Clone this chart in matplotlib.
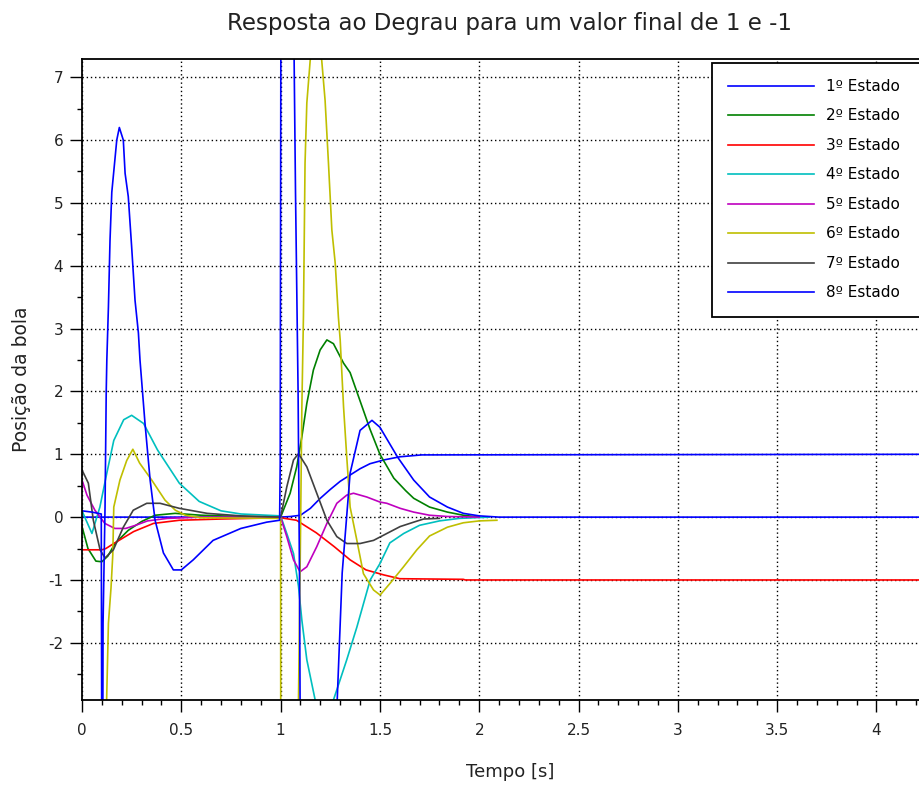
import matplotlib
matplotlib.use("Agg")
import matplotlib.pyplot as plt
from matplotlib.ticker import MultipleLocator, FormatStrFormatter

plt.rcParams['font.family'] = ['DejaVu Sans']
plt.rcParams['axes.unicode_minus'] = False

# ---- data (time in s, position) ----
t1 = [0, 0.5, 1.0, 1.05, 1.10, 1.15, 1.20, 1.25, 1.30, 1.35, 1.40, 1.45, 1.52, 1.60, 1.71, 4.31]
y1 = [0, 0, 0, 0.01, 0.03, 0.14, 0.30, 0.44, 0.57, 0.67, 0.77, 0.85, 0.91, 0.96, 0.99, 1.0]

t2 = [0, 0.03, 0.07, 0.10, 0.13, 0.166, 0.233, 0.30, 0.368, 0.469, 0.6, 0.8, 1.0,
      1.048, 1.081, 1.107, 1.132, 1.165, 1.199, 1.233, 1.266, 1.317, 1.35, 1.40, 1.45,
      1.50, 1.57, 1.63, 1.67, 1.75, 1.84, 1.92, 2.0]
y2 = [-0.15, -0.5, -0.7, -0.71, -0.62, -0.42, -0.21, -0.07, 0.03, 0.06, 0.03, 0.01, 0.0,
      0.38, 0.8, 1.28, 1.81, 2.34, 2.66, 2.82, 2.76, 2.45, 2.3, 1.85, 1.4,
      1.0, 0.62, 0.42, 0.3, 0.16, 0.08, 0.03, 0.0]

t3 = [0, 0.1, 0.12, 0.16, 0.26, 0.36, 0.49, 0.7, 1.0, 1.08, 1.18, 1.27, 1.35, 1.43,
      1.52, 1.60, 1.92, 1.93, 4.31]
y3 = [-0.52, -0.52, -0.5, -0.42, -0.23, -0.1, -0.05, -0.03, -0.01, -0.05, -0.25, -0.47,
      -0.68, -0.84, -0.92, -0.98, -0.99, -1.0, -1.0]

t4 = [0, 0.05, 0.09, 0.125, 0.16, 0.21, 0.25, 0.31, 0.38, 0.49, 0.59, 0.70, 0.80, 1.0,
      1.031, 1.065, 1.09, 1.107, 1.132, 1.174, 1.22, 1.266, 1.333, 1.384, 1.451, 1.50,
      1.55, 1.62, 1.70, 1.80, 1.90, 2.05]
y4 = [0.1, -0.26, 0.16, 0.7, 1.22, 1.55, 1.62, 1.49, 1.07, 0.54, 0.25, 0.1, 0.05, 0.02,
      -0.26, -0.58, -1.1, -1.64, -2.27, -2.91, -3.4, -2.91, -2.27, -1.75, -1.0, -0.74,
      -0.41, -0.26, -0.13, -0.06, -0.02, 0.0]

t5 = [0, 0.025, 0.065, 0.115, 0.165, 0.22, 0.27, 0.33, 0.43, 0.6, 1.0,
      1.031, 1.065, 1.098, 1.132, 1.182, 1.233, 1.283, 1.333, 1.367, 1.434, 1.50,
      1.535, 1.602, 1.67, 1.75, 1.84, 2.0]
y5 = [0.59, 0.35, 0.11, -0.1, -0.18, -0.18, -0.13, -0.06, -0.02, 0.0, 0.0,
      -0.31, -0.68, -0.87, -0.79, -0.47, -0.1, 0.22, 0.35, 0.38, 0.32, 0.24,
      0.22, 0.14, 0.08, 0.03, 0.01, 0.0]

t6 = [0, 0.06, 0.124, 0.133, 0.146, 0.155, 0.16, 0.191, 0.225, 0.256, 0.29, 0.351,
      0.418, 0.47, 0.52, 0.6, 1.0, 1.002, 1.05, 1.09, 1.098, 1.107, 1.115, 1.123, 1.132,
      1.149, 1.178, 1.207, 1.224, 1.241, 1.258, 1.275, 1.291, 1.30, 1.317, 1.333, 1.35,
      1.384, 1.417, 1.468, 1.501, 1.552, 1.619, 1.686, 1.75, 1.84, 1.92, 2.0, 2.089]
y6 = [-12, -10, -2.91, -1.69, -1.13, -0.6, 0.16, 0.59, 0.9, 1.08, 0.86, 0.59,
      0.27, 0.11, 0.03, -0.01, -0.02, -10, -12, -2.91, -0.9, 1.75, 3.2, 5.63, 6.59,
      7.27, 7.6, 7.27, 6.63, 5.63, 4.57, 4.04, 3.18, 2.82, 1.75, 0.96, 0.16,
      -0.37, -0.9, -1.16, -1.24, -1.05, -0.79, -0.52, -0.3, -0.16, -0.09, -0.06, -0.05]

t7 = [0, 0.032, 0.057, 0.091, 0.116, 0.158, 0.208, 0.258, 0.326, 0.393, 0.49, 0.63, 0.8,
      1.0, 1.031, 1.065, 1.09, 1.132, 1.182, 1.233, 1.283, 1.333, 1.40, 1.468, 1.535,
      1.602, 1.67, 1.72, 1.80]
y7 = [0.75, 0.54, -0.05, -0.52, -0.65, -0.52, -0.16, 0.11, 0.22, 0.22, 0.14, 0.06, 0.02,
      0.0, 0.48, 0.91, 1.01, 0.8, 0.38, -0.05, -0.31, -0.42, -0.42, -0.37, -0.26,
      -0.15, -0.08, -0.03, -0.02]

t8 = [0, 0.05, 0.097, 0.1, 0.104, 0.106, 0.116, 0.122, 0.125, 0.133, 0.141, 0.15, 0.166,
      0.175, 0.188, 0.208, 0.217, 0.233, 0.25, 0.267, 0.284, 0.292, 0.317, 0.343, 0.368,
      0.41, 0.46, 0.50, 0.56, 0.66, 0.80, 0.93, 0.995, 0.998, 1.002, 1.04, 1.068, 1.075,
      1.088, 1.095, 1.098, 1.19, 1.285, 1.31, 1.35, 1.40, 1.46, 1.50, 1.59, 1.67, 1.75,
      1.84, 1.92, 2.0, 2.1, 4.31]
y8 = [0.1, 0.08, 0.05, -4.5, -4.5, -1.69, 0.16, 2.0, 2.5, 3.34, 4.4, 5.17, 5.7,
      6.0, 6.2, 6.0, 5.47, 5.1, 4.3, 3.45, 2.93, 2.5, 1.5, 0.59, -0.05,
      -0.57, -0.84, -0.84, -0.68, -0.37, -0.18, -0.08, -0.05, 0.85, 9.0, 14.0, 7.3, 5.17,
      2.0, -0.9, -2.91, -9.0, -2.91, -0.89, 0.7, 1.38, 1.54, 1.43, 0.95, 0.59, 0.32,
      0.16, 0.06, 0.02, 0.0, 0.0]

series = [(t1, y1), (t2, y2), (t3, y3), (t4, y4), (t5, y5), (t6, y6), (t7, y7), (t8, y8)]
labels = ["1º Estado", "2º Estado", "3º Estado", "4º Estado",
          "5º Estado", "6º Estado", "7º Estado", "8º Estado"]
colors = ["#0000ff", "#008000", "#ff0000", "#00bfbf",
          "#bf00bf", "#bfbf00", "#404040", "#0000ff"]

fig = plt.figure(figsize=(9.2, 7.85), dpi=100)
# axes run a little past the right edge, like the cropped original
ax = fig.add_axes([82 / 920, 1 - 700 / 785, (938 - 82) / 920, (700 - 59) / 785])

for (t, y), lab, c in zip(series, labels, colors):
    ax.plot(t, y, color=c, lw=1.2, label=lab)

ax.set_xlim(0, 4.31)
ax.set_ylim(-2.91, 7.29)
ax.xaxis.set_major_locator(MultipleLocator(0.5))
ax.xaxis.set_minor_locator(MultipleLocator(0.1))
ax.yaxis.set_major_locator(MultipleLocator(1))
ax.yaxis.set_minor_locator(MultipleLocator(0.5))
ax.xaxis.set_major_formatter(FormatStrFormatter('%g'))
ax.yaxis.set_major_formatter(FormatStrFormatter('%g'))
ax.tick_params(which='major', direction='out', length=8.5, width=1, labelsize=11,
               colors='black', labelcolor='#222222')
ax.tick_params(axis='x', which='major', pad=8)
ax.tick_params(axis='y', which='major', pad=5)
ax.tick_params(which='minor', direction='out', length=3.6, width=1)
ax.grid(True, which='major', color='black', linestyle=(0, (1, 2)), lw=1)
ax.set_axisbelow(True)
for s in ['left', 'bottom', 'top']:
    ax.spines[s].set_linewidth(1.3)
ax.spines['right'].set_visible(False)

ax.set_title("Resposta ao Degrau para um valor final de 1 e -1", fontsize=16.5, pad=21,
             color='#222222')
ax.set_xlabel("Tempo [s]", fontsize=13, labelpad=18, color='#222222')
ax.set_ylabel("Posição da bola", fontsize=13.5, labelpad=12, color='#222222')

# legend box runs past the right edge, as in the cropped original
leg = ax.legend(loc='upper left', bbox_to_anchor=(0.736, 0.994, 0.3, 0), mode='expand',
                borderaxespad=0, fontsize=11, handlelength=5.6, handletextpad=0.8,
                labelspacing=0.95, borderpad=1.05, fancybox=False, framealpha=1,
                edgecolor='black')
leg.get_frame().set_linewidth(1.3)

fig.savefig("out.png", dpi=100)
